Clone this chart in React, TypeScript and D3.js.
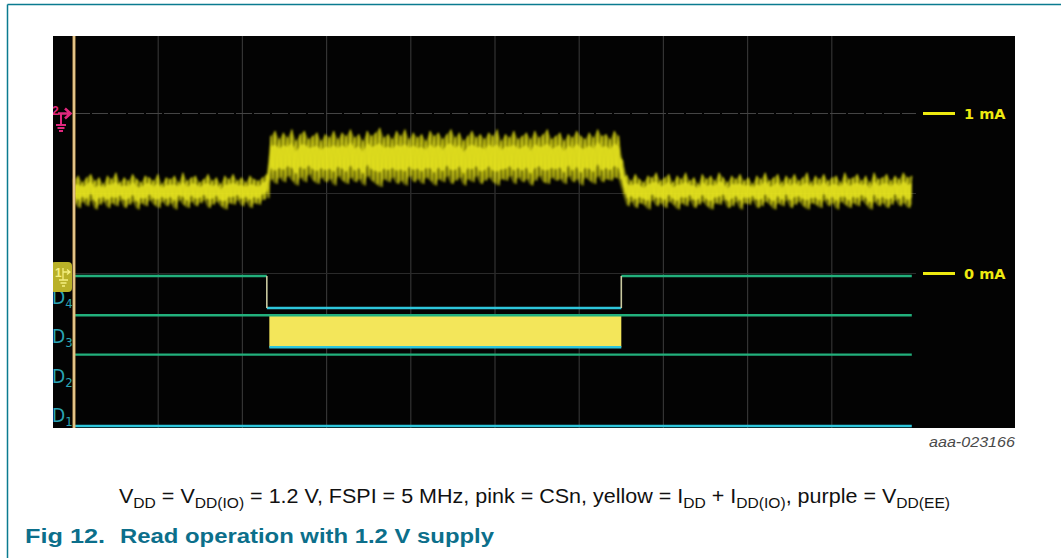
import React from "react";
import * as d3 from "d3";

// ---------- data ----------
const traceStart = 0; // divisions
const traceEnd = 9.95; // divisions
// yellow trace (I_DD + I_DD(IO)) envelope in mA, sampled evenly over time
const traceUpper = [
  0.59,0.61,0.57,0.60,0.62,0.58,0.60,0.56,0.61,0.59,
  0.63,0.57,0.60,0.58,0.62,0.59,0.57,0.61,0.60,0.58,
  0.62,0.56,0.60,0.59,0.61,0.57,0.63,0.58,0.60,0.61,
  0.57,0.59,0.62,0.58,0.60,0.56,0.61,0.59,0.62,0.58,
  0.60,0.57,0.61,0.59,0.58,0.60,0.62,
  0.86,0.89,0.84,0.88,0.85,0.90,0.83,0.87,0.89,0.84,
  0.86,0.88,0.83,0.87,0.85,0.89,0.84,0.88,0.86,0.90,
  0.85,0.87,0.83,0.89,0.86,0.88,0.91,0.85,0.87,0.84,
  0.89,0.86,0.90,0.84,0.88,0.85,0.87,0.83,0.89,0.86,
  0.88,0.84,0.87,0.90,0.85,0.88,0.83,0.86,0.89,0.85,
  0.87,0.84,0.88,0.86,0.90,0.83,0.87,0.85,0.89,0.84,
  0.86,0.88,0.84,0.89,0.85,0.87,0.90,0.84,0.86,0.88,
  0.83,0.87,0.85,0.89,0.86,0.84,0.88,0.85,0.90,0.86,
  0.87,0.84,0.89,0.86,
  0.70,0.61,0.58,0.62,0.59,0.57,0.61,0.60,0.63,0.58,
  0.60,0.62,0.57,0.61,0.59,0.63,0.58,0.60,0.56,0.62,
  0.59,0.61,0.58,0.63,0.60,0.57,0.61,0.59,0.62,0.58,
  0.60,0.56,0.61,0.59,0.63,0.58,0.60,0.62,0.57,0.61,
  0.59,0.62,0.58,0.60,0.63,0.57,0.61,0.59,0.62,0.58,
  0.60,0.61,0.57,0.63,0.59,0.60,0.62,0.58,0.61,0.57,
  0.63,0.59,0.60,0.62,0.58,0.61,0.59,0.63,0.60,0.61,
];
const traceLower = [
  0.44,0.41,0.45,0.42,0.46,0.40,0.43,0.45,0.41,0.44,
  0.42,0.46,0.41,0.43,0.45,0.40,0.44,0.42,0.46,0.43,
  0.41,0.45,0.42,0.44,0.40,0.46,0.43,0.41,0.45,0.42,
  0.44,0.46,0.41,0.43,0.45,0.42,0.40,0.44,0.43,0.46,
  0.42,0.45,0.41,0.44,0.43,0.46,0.47,
  0.59,0.56,0.60,0.57,0.61,0.58,0.55,0.60,0.57,0.62,
  0.58,0.56,0.60,0.57,0.59,0.55,0.61,0.58,0.56,0.60,
  0.57,0.59,0.55,0.61,0.58,0.56,0.54,0.59,0.57,0.60,
  0.56,0.58,0.55,0.61,0.57,0.59,0.56,0.60,0.58,0.55,
  0.59,0.57,0.61,0.56,0.58,0.60,0.55,0.59,0.57,0.61,
  0.56,0.58,0.60,0.57,0.55,0.59,0.58,0.61,0.56,0.60,
  0.57,0.59,0.55,0.58,0.61,0.57,0.56,0.60,0.58,0.59,
  0.56,0.61,0.57,0.59,0.55,0.60,0.58,0.56,0.61,0.57,
  0.59,0.58,0.60,0.59,
  0.50,0.42,0.45,0.41,0.44,0.43,0.40,0.46,0.42,0.44,
  0.41,0.45,0.43,0.40,0.44,0.42,0.46,0.41,0.43,0.45,
  0.42,0.40,0.44,0.43,0.46,0.41,0.42,0.45,0.40,0.44,
  0.43,0.46,0.41,0.42,0.45,0.43,0.40,0.44,0.42,0.46,
  0.41,0.43,0.45,0.42,0.40,0.44,0.43,0.41,0.46,0.42,
  0.44,0.40,0.45,0.43,0.41,0.44,0.42,0.46,0.43,0.40,
  0.45,0.42,0.44,0.41,0.43,0.46,0.42,0.44,0.41,0.43,
];

const gridDivisions = [1, 2, 3, 4, 5, 6, 7, 8, 9];
const currentMarkers = [1, 0]; // mA
const currentLabels = ["1 mA", "0 mA"];
const currentGrid = [1, 0.5, 0];

const digitalChannels = ["D4", "D3", "D2", "D1"];
const channelSub = ["4", "3", "2", "1"];
// logic levels per channel as [start, end, level] in divisions
const d4Steps: [number, number, number][] = [[0, 2.29, 1], [2.29, 6.5, 0], [6.5, 9.95, 1]];
const d3Steps: [number, number, number][] = [[0, 9.95, 1]];
const d3Busy: [number, number] = [2.32, 6.5];
const d2Steps: [number, number, number][] = [[0, 9.95, 1]];
const d1Steps: [number, number, number][] = [[0, 9.95, 0]];
const channelSteps = [d4Steps, d3Steps, d2Steps, d1Steps];

const figureId = "aaa-023166";
const figNumber = "Fig 12.";
const figTitle = "Read operation with 1.2 V supply";

// ---------- layout ----------
const W = 1061, H = 558;
const panel = { x0: 53, y0: 36, x1: 1015, y1: 428 };
const x = d3.scaleLinear().domain([0, 10]).range([74, 916]);
const yA = d3.scaleLinear().domain([0, 1]).range([273.5, 113.5]);
const lane = d3.scaleBand<string>().domain(digitalChannels).range([276, 426]).paddingInner(0.185).paddingOuter(0);

const YEL = "#e0de12";
const GREEN = "#22b07c";
const CYAN = "#2ec6dc";
const TEAL = "#0c6f8b";

export default function App() {
  const n = traceUpper.length;
  const tAt = (i: number) => traceStart + (i * (traceEnd - traceStart)) / (n - 1);
  const idx = d3.range(n);
  const outer = d3.area<number>().x((i) => x(tAt(i))).y0((i) => yA(traceLower[i])).y1((i) => yA(traceUpper[i]))(idx) || "";
  const core = d3
    .area<number>()
    .x((i) => x(tAt(i)))
    .y0((i) => yA((traceLower[i] + traceUpper[i]) / 2 - (traceUpper[i] - traceLower[i]) * 0.25))
    .y1((i) => yA((traceLower[i] + traceUpper[i]) / 2 + (traceUpper[i] - traceLower[i]) * 0.25))(idx) || "";
  const q = (traceEnd - traceStart) / (n - 1) / 4;
  const zig: [number, number][] = [];
  idx.forEach((i) => {
    const mid = (traceUpper[i] + traceLower[i]) / 2;
    zig.push([x(tAt(i)), yA(traceUpper[i])]);
    if (i < n - 1) {
      zig.push([x(tAt(i) + q), yA(mid)]);
      zig.push([x(tAt(i) + 2 * q), yA(traceLower[i])]);
      zig.push([x(tAt(i) + 3 * q), yA((mid + traceUpper[i + 1]) / 2)]);
    }
  });
  const zigPath = d3.line()(zig) || "";

  const bw = lane.bandwidth();
  const levelY = (ch: string, v: number) => (v ? (lane(ch) as number) : (lane(ch) as number) + bw);

  const sub = 14.5;
  return (
    <svg width={W} height={H} style={{ position: "absolute", left: 0, top: 0, background: "#fff" }}
      fontFamily="'Liberation Sans', Arial, sans-serif">
      <defs>
        <clipPath id="pclip">
          <rect x={panel.x0} y={panel.y0} width={panel.x1 - panel.x0} height={panel.y1 - panel.y0} />
        </clipPath>
        <filter id="soft" x="-5%" y="-30%" width="110%" height="160%">
          <feGaussianBlur stdDeviation="0.9" />
        </filter>
      </defs>

      {/* page frame */}
      <line x1={7.5} y1={4.5} x2={W} y2={4.5} stroke="#0a7b90" strokeWidth={1.5} />
      <line x1={7.5} y1={4.5} x2={7.5} y2={H} stroke="#0a7b90" strokeWidth={1.5} />

      {/* scope screen */}
      <rect x={panel.x0} y={panel.y0} width={panel.x1 - panel.x0} height={panel.y1 - panel.y0} fill="#030303" />
      <g clipPath="url(#pclip)">
        {gridDivisions.map((d) => (
          <line key={d} x1={x(d)} x2={x(d)} y1={panel.y0} y2={panel.y1} stroke="#333" strokeWidth={1.2} />
        ))}
        {currentGrid.map((c, i) => (
          <line key={i} x1={x(0)} x2={x(10)} y1={yA(c)} y2={yA(c)} stroke={c === 1 ? "#444" : "#2a2a2a"}
            strokeWidth={1.2} strokeDasharray={c === 1 ? "16 2" : undefined} />
        ))}

        {/* yellow current trace */}
        <g filter="url(#soft)">
          <path d={outer} fill={YEL} opacity={0.45} />
          <path d={zigPath} fill="none" stroke="#ecea18" strokeWidth={1.1} opacity={0.9} />
          <path d={core} fill="#e8e620" opacity={0.8} />
        </g>

        {/* digital channels */}
        <rect x={x(d3Busy[0])} y={lane("D3")} width={x(d3Busy[1]) - x(d3Busy[0])} height={bw} fill="#f3e65a" />
        <line x1={x(d3Busy[0])} x2={x(d3Busy[1])} y1={levelY("D3", 0)} y2={levelY("D3", 0)} stroke={CYAN} strokeWidth={2.5} />
        {digitalChannels.map((ch, ci) => {
          const steps = channelSteps[ci];
          return (
            <g key={ch}>
              {steps.map(([t0, t1, v], si) => (
                <line key={si} x1={x(t0)} x2={x(t1)} y1={levelY(ch, v)} y2={levelY(ch, v)}
                  stroke={v ? GREEN : CYAN} strokeWidth={2.4} />
              ))}
              {steps.slice(1).map(([t0], si) => (
                <line key={"e" + si} x1={x(t0)} x2={x(t0)} y1={levelY(ch, 1)} y2={levelY(ch, 0)}
                  stroke="#c9c9a0" strokeWidth={1.6} />
              ))}
            </g>
          );
        })}

        {/* channel labels */}
        {digitalChannels.map((ch, ci) => (
          <text key={ch} x={panel.x0 - 1} y={(lane(ch) as number) + bw - 4} fill="#2aa3b4" fontSize={19}
            fontFamily="'Liberation Sans Narrow', 'DejaVu Sans Condensed', sans-serif">
            D<tspan fontSize={13} dy={4}>{channelSub[ci]}</tspan>
          </text>
        ))}

        {/* channel 1 marker box */}
        <rect x={panel.x0 - 2} y={262} width={21} height={30} rx={4} fill="#b9b128" />
        <text x={55} y={277} fontSize={12} fontWeight="bold" fill="#f4ef80">1</text>
        <path d="M63 268 v12 M59 280 h9 M60.5 283 h6 M62 286 h3" stroke="#f4ef80" strokeWidth={1.3} fill="none" />
        <path d="M63 272 h6 M67 269.5 l3 2.5 l-3 2.5" stroke="#f4ef80" strokeWidth={1.3} fill="none" />

        {/* pink marker */}
        <text x={52} y={115} fontSize={12} fontWeight="bold" fill="#e0287e">2</text>
        <path d="M58 113.5 h11 M65 108.5 l5.5 5 l-5.5 5" stroke="#e0287e" strokeWidth={2.6} fill="none" />
        <path d="M61 114 v11 M56 125 h10 M57.5 128 h7 M59 131 h4" stroke="#e0287e" strokeWidth={2} fill="none" />

        {/* time origin line */}
        <line x1={x(0)} x2={x(0)} y1={panel.y0} y2={panel.y1} stroke="#d0a45c" strokeWidth={3} />
        <line x1={x(0)} x2={x(0)} y1={panel.y0} y2={panel.y1} stroke="#f6e2b2" strokeWidth={1} />

        {/* current scale markers */}
        {currentMarkers.map((c, i) => (
          <g key={i}>
            <line x1={923} x2={955} y1={yA(c)} y2={yA(c)} stroke="#eeea10" strokeWidth={3} />
            <text x={964} y={yA(c) + 5} fill="#eeea10" fontSize={14.5} fontWeight="bold"
              fontFamily="Verdana, 'DejaVu Sans', sans-serif">{currentLabels[i]}</text>
          </g>
        ))}
      </g>

      <text x={panel.x1} y={447} textAnchor="end" fontSize={14} fontStyle="italic" fill="#4a4a4a"
        textLength={86} lengthAdjust="spacingAndGlyphs">{figureId}</text>

      <text x={119} y={503} fontSize={20} fill="#111" textLength={831} lengthAdjust="spacingAndGlyphs">
        V<tspan fontSize={sub} dy={5}>DD</tspan>
        <tspan dy={-5}> = V</tspan><tspan fontSize={sub} dy={5}>DD(IO)</tspan>
        <tspan dy={-5}> = 1.2 V, FSPI = 5 MHz, pink = CSn, yellow = I</tspan><tspan fontSize={sub} dy={5}>DD</tspan>
        <tspan dy={-5}> + I</tspan><tspan fontSize={sub} dy={5}>DD(IO)</tspan>
        <tspan dy={-5}>, purple = V</tspan><tspan fontSize={sub} dy={5}>DD(EE)</tspan>
      </text>

      <text x={25} y={543} fontSize={20} fontWeight="bold" fill={TEAL} textLength={80} lengthAdjust="spacingAndGlyphs">{figNumber}</text>
      <text x={120} y={543} fontSize={20} fontWeight="bold" fill={TEAL} textLength={374} lengthAdjust="spacingAndGlyphs">{figTitle}</text>
    </svg>
  );
}
